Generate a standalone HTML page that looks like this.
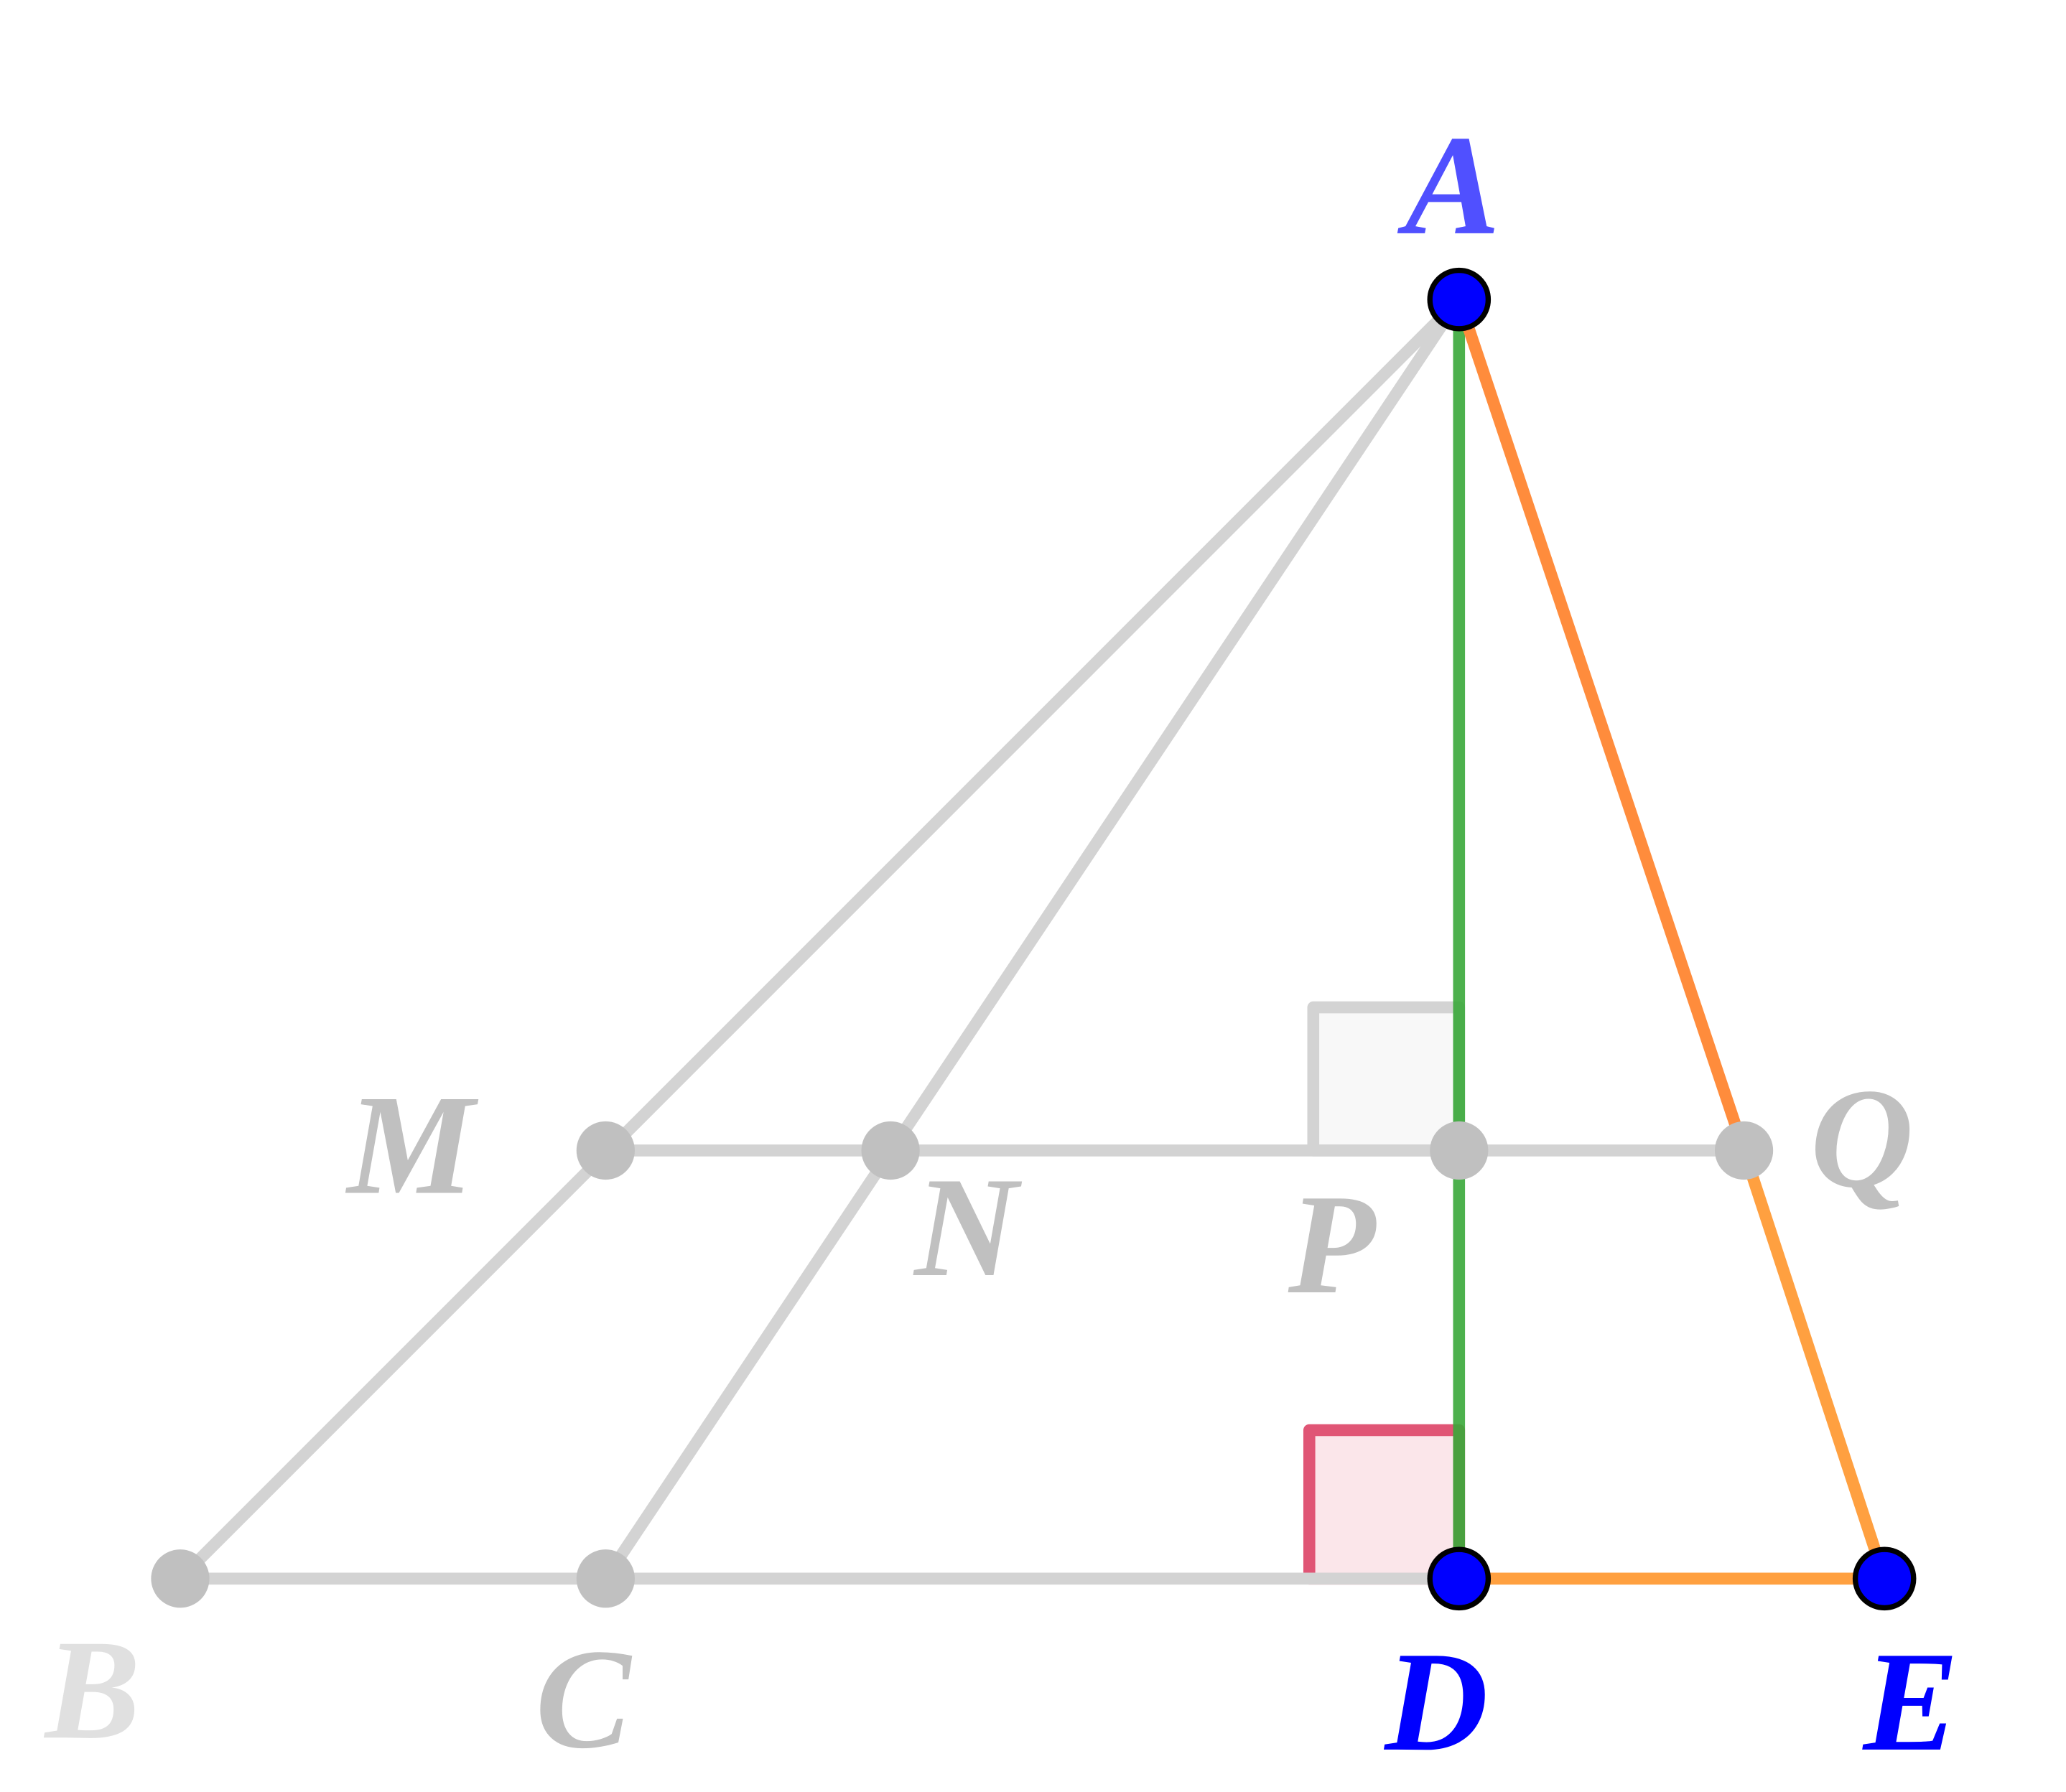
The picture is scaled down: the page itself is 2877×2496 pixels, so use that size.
<!DOCTYPE html>
<html><head><style>html,body{margin:0;padding:0;background:#fff}svg{display:block}</style></head>
<body>
<svg width="2877" height="2496" viewBox="0 0 1559 1352" preserveAspectRatio="none" xmlns="http://www.w3.org/2000/svg">
<rect width="1559" height="1352" fill="#fff"/>
<rect x="991" y="760" width="110" height="108" fill="#f8f8f8" stroke="#d3d3d3" stroke-width="9" stroke-linejoin="round"/>
<rect x="988" y="1079" width="113" height="112" fill="#fbe6ea" stroke="#e05575" stroke-width="9" stroke-linejoin="round"/>
<g stroke="#d3d3d3" stroke-width="9" stroke-linecap="round" fill="none">
<line x1="1101" y1="226" x2="136" y2="1191"/>
<line x1="1101" y1="226" x2="457" y2="1191"/>
<line x1="457" y1="868" x2="1316" y2="868"/>
<line x1="136" y1="1191" x2="1101" y2="1191"/>
</g>
<line x1="1101" y1="226" x2="1101" y2="1191" stroke="#3aa83a" stroke-opacity="0.9" stroke-width="9"/>
<line x1="1101" y1="226" x2="1316" y2="868" stroke="#ff8c3c" stroke-width="9"/>
<line x1="1316" y1="868" x2="1422" y2="1191" stroke="#ffa040" stroke-width="9"/>
<line x1="1101" y1="1191" x2="1422" y2="1191" stroke="#ffa040" stroke-width="9"/>
<g fill="#c0c0c0">
<circle cx="136" cy="1191" r="22"/><circle cx="457" cy="1191" r="22"/>
<circle cx="457" cy="868" r="22"/><circle cx="672" cy="868" r="22"/>
<circle cx="1101" cy="868" r="22"/><circle cx="1316" cy="868" r="22"/>
</g>
<g fill="#0000ff" stroke="#000" stroke-width="4">
<circle cx="1101" cy="226" r="22"/><circle cx="1101" cy="1191" r="22"/><circle cx="1422" cy="1191" r="22"/>
</g>
<g font-family="Liberation Serif, serif" font-style="italic" font-size="108" font-weight="bold">
<text x="1060" y="176" fill="#5050ff">A</text>
<text x="262" y="900" fill="#c0c0c0">M</text>
<text x="690" y="962" fill="#c0c0c0">N</text>
<text x="972" y="975" fill="#c0c0c0">P</text>
<text x="1366" y="895" fill="#c0c0c0">Q</text>
<text x="34" y="1311" fill="#e0e0e0">B</text>
<text x="404" y="1318" fill="#c0c0c0">C</text>
<text x="1045" y="1320" fill="#0000ff">D</text>
<text x="1406" y="1320" fill="#0000ff">E</text>
</g>
</svg>
</body></html>
